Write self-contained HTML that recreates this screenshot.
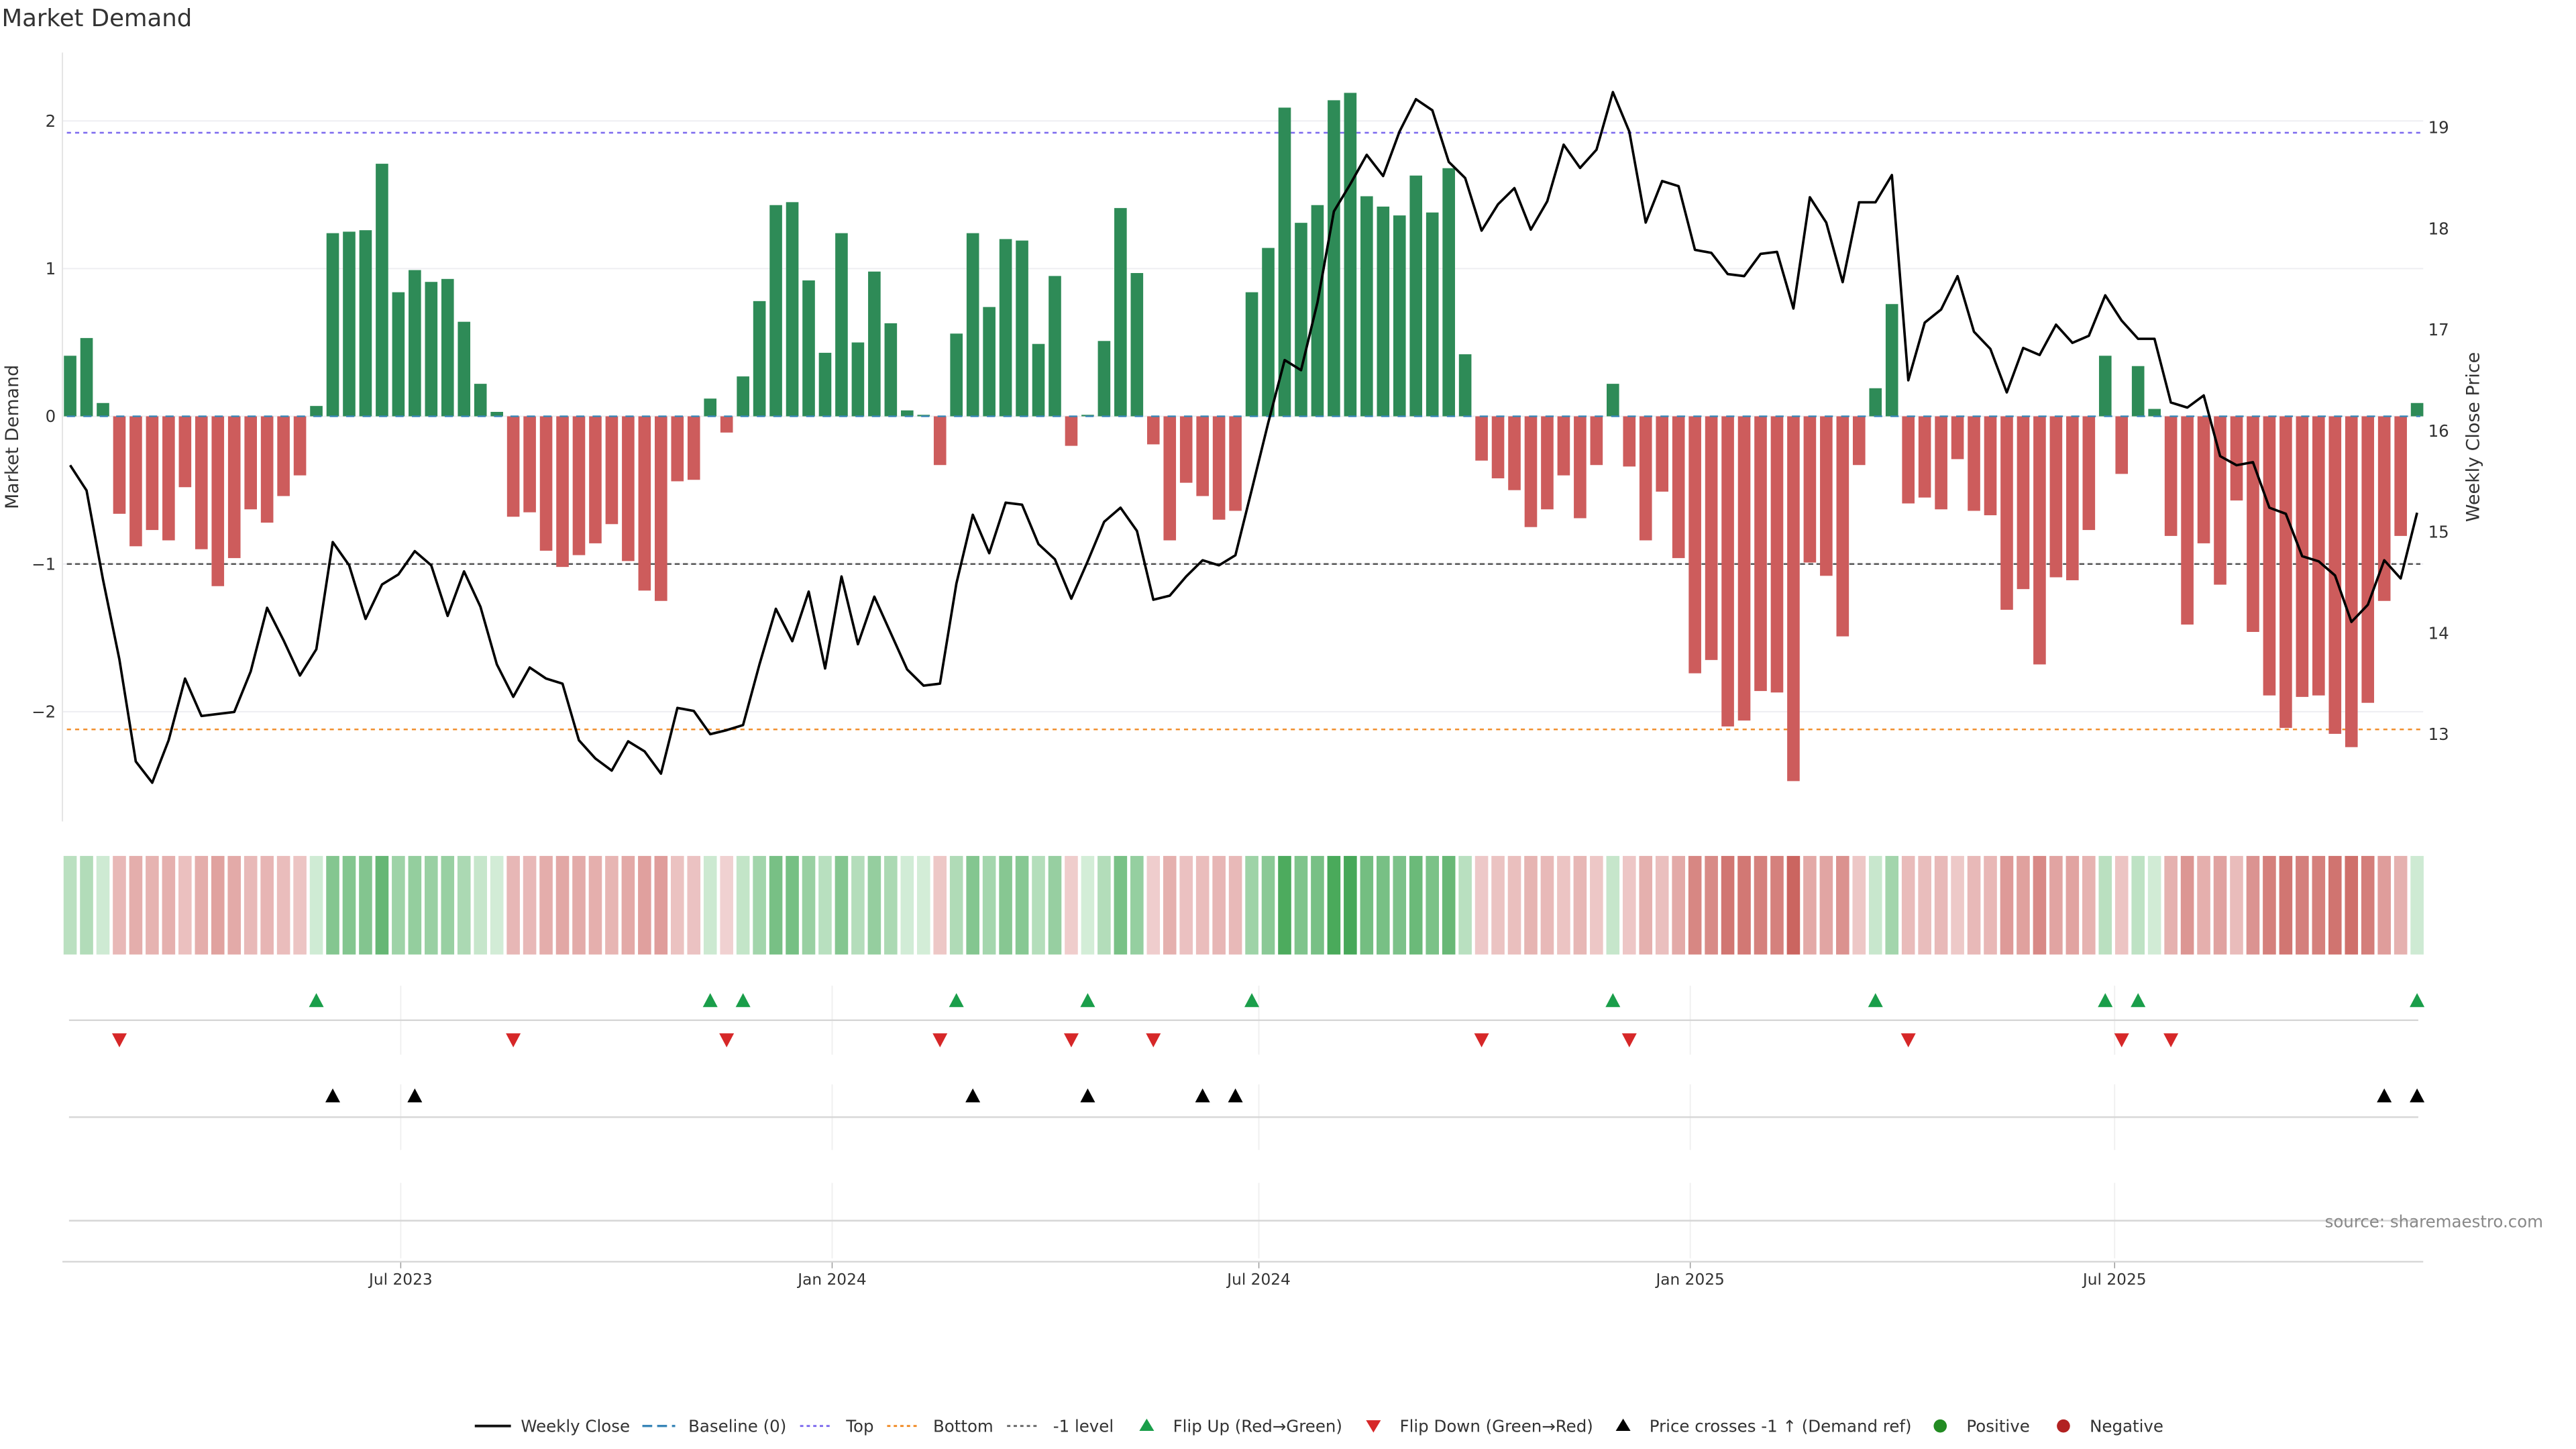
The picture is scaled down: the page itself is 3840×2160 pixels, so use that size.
<!DOCTYPE html>
<html><head><meta charset="utf-8"><style>
html,body{margin:0;padding:0;background:#fff;}
svg{display:block;font-family:"DejaVu Sans","Liberation Sans",sans-serif;}
</style></head><body>
<svg id="chart" width="3840" height="2160" viewBox="0 0 1568 882" xmlns="http://www.w3.org/2000/svg">
<rect width="1568" height="882" fill="#fff"/>
<text x="1" y="16" font-size="14.5" fill="#333">Market Demand</text>
<g id="grid"></g><g id="refs"></g><g id="bars"></g><g id="line"></g><g id="strip"></g><g id="panels"></g><g id="axes"></g>
<text x="1548" y="747" font-size="10" fill="#888" text-anchor="end">source: sharemaestro.com</text>
<g id="legend" font-size="10" fill="#333">
<line x1="289" y1="868" x2="311" y2="868" stroke="#111" stroke-width="1.6"/><text x="317" y="871.5">Weekly Close</text>
<line x1="391" y1="868" x2="411" y2="868" stroke="#3a86b8" stroke-width="1.4" stroke-dasharray="6,3"/><text x="419" y="871.5">Baseline (0)</text>
<line x1="487" y1="868" x2="507" y2="868" stroke="#7b68ee" stroke-width="1.2" stroke-dasharray="2,2"/><text x="515" y="871.5">Top</text>
<line x1="540" y1="868" x2="560" y2="868" stroke="#f08a24" stroke-width="1.2" stroke-dasharray="2,2"/><text x="568" y="871.5">Bottom</text>
<line x1="613" y1="868" x2="633" y2="868" stroke="#666" stroke-width="1.2" stroke-dasharray="2,2"/><text x="641" y="871.5">-1 level</text>
<path d="M698,863.5 L702.5,871 L693.5,871Z" fill="#1a9e4a"/><text x="714" y="871.5">Flip Up (Red→Green)</text>
<path d="M836,872 L840.5,864.5 L831.5,864.5Z" fill="#d62728"/><text x="852" y="871.5">Flip Down (Green→Red)</text>
<path d="M988,863.5 L992.5,871 L983.5,871Z" fill="#000"/><text x="1004" y="871.5">Price crosses -1 ↑ (Demand ref)</text>
<circle cx="1181" cy="868" r="4" fill="#228b22"/><text x="1197" y="871.5">Positive</text>
<circle cx="1256" cy="868" r="4" fill="#b22222"/><text x="1272" y="871.5">Negative</text>
</g>
</svg>
<script>
const demand=[0.41,0.53,0.09,-0.66,-0.88,-0.77,-0.84,-0.48,-0.90,-1.15,-0.96,-0.63,-0.72,-0.54,-0.40,0.07,1.24,1.25,1.26,1.71,0.84,0.99,0.91,0.93,0.64,0.22,0.03,-0.68,-0.65,-0.91,-1.02,-0.94,-0.86,-0.73,-0.98,-1.18,-1.25,-0.44,-0.43,0.12,-0.11,0.27,0.78,1.43,1.45,0.92,0.43,1.24,0.50,0.98,0.63,0.04,0.01,-0.33,0.56,1.24,0.74,1.20,1.19,0.49,0.95,-0.20,0.01,0.51,1.41,0.97,-0.19,-0.84,-0.45,-0.54,-0.70,-0.64,0.84,1.14,2.09,1.31,1.43,2.14,2.19,1.49,1.42,1.36,1.63,1.38,1.68,0.42,-0.30,-0.42,-0.50,-0.75,-0.63,-0.40,-0.69,-0.33,0.22,-0.34,-0.84,-0.51,-0.96,-1.74,-1.65,-2.10,-2.06,-1.86,-1.87,-2.47,-0.99,-1.08,-1.49,-0.33,0.19,0.76,-0.59,-0.55,-0.63,-0.29,-0.64,-0.67,-1.31,-1.17,-1.68,-1.09,-1.11,-0.77,0.41,-0.39,0.34,0.05,-0.81,-1.41,-0.86,-1.14,-0.57,-1.46,-1.89,-2.11,-1.90,-1.89,-2.15,-2.24,-1.94,-1.25,-0.81,0.09];
const price=[15.66,15.41,14.53,13.74,12.73,12.52,12.94,13.55,13.18,13.20,13.22,13.62,14.25,13.93,13.58,13.84,14.90,14.67,14.14,14.48,14.58,14.81,14.67,14.17,14.61,14.26,13.69,13.37,13.66,13.55,13.50,12.94,12.76,12.64,12.93,12.83,12.61,13.26,13.23,13.00,13.04,13.09,13.69,14.24,13.92,14.41,13.65,14.56,13.89,14.36,14.00,13.64,13.48,13.50,14.49,15.17,14.79,15.29,15.27,14.88,14.73,14.34,14.71,15.10,15.24,15.01,14.33,14.37,14.56,14.72,14.67,14.77,15.42,16.08,16.70,16.60,17.27,18.17,18.44,18.73,18.52,18.96,19.28,19.17,18.66,18.50,17.98,18.24,18.40,17.99,18.27,18.83,18.60,18.78,19.35,18.96,18.06,18.47,18.42,17.79,17.76,17.55,17.53,17.75,17.77,17.21,18.31,18.06,17.47,18.26,18.26,18.53,16.50,17.07,17.20,17.53,16.98,16.81,16.38,16.82,16.75,17.05,16.87,16.94,17.34,17.09,16.91,16.91,16.28,16.23,16.35,15.75,15.66,15.69,15.24,15.18,14.76,14.71,14.57,14.11,14.28,14.72,14.54,15.19];
const leftTicks=[2,1,0,-1,-2];
const rightTicks=[13,14,15,16,17,18,19];
const dateTicks=["2023-07-01","2024-01-01","2024-07-01","2025-01-01","2025-07-01"];
const dateTickLabels=["Jul 2023","Jan 2024","Jul 2024","Jan 2025","Jul 2025"];
const refTop=1.92, refBottom=-2.12, refMinus1=-1;
const startDate="2023-02-10";

const NS="http://www.w3.org/2000/svg";
const X0=42.7, STEP=9.99;
const xi=i=>X0+i*STEP;
const yD=v=>253.4-v*89.9;
const yP=p=>77.6+(19-p)*61.55;
const pFromY=y=>19-(y-77.6)/61.55;
const xDate=s=>{const d=(new Date(s+"T00:00:00Z")-new Date(startDate+"T00:00:00Z"))/86400000;return X0+d/7*STEP;};
function mk(tag,attrs,parent){const e=document.createElementNS(NS,tag);for(const k in attrs)e.setAttribute(k,attrs[k]);document.getElementById(parent).appendChild(e);return e;}
const L=38,R=1475;
leftTicks.forEach(v=>{
 const g=mk('line',{x1:L,x2:R,y1:yD(v),y2:yD(v),stroke:'#eeeef2','stroke-width':0.8},'grid');
 
 
 const t=mk('text',{x:34,y:yD(v)+3.5,'font-size':10,fill:'#333','text-anchor':'end'},'axes');
 t.textContent=v<0?'\u2212'+(-v):String(v);
 
 
});
rightTicks.forEach(v=>{
 const t=mk('text',{x:1478,y:yP(v)+3.5,'font-size':10,fill:'#333'},'axes');
 t.textContent=String(v);
 
 
});
let a=mk('line',{x1:L,x2:L,y1:32,y2:500,stroke:'#e4e4e4','stroke-width':0.8},'axes');


let yt=mk('text',{x:11,y:266,'font-size':11,fill:'#333','text-anchor':'middle',transform:'rotate(-90 11 266)'},'axes');yt.textContent='Market Demand';


let yt2=mk('text',{x:1509,y:266,'font-size':11,fill:'#333','text-anchor':'middle',transform:'rotate(-90 1509 266)'},'axes');yt2.textContent='Weekly Close Price';


const n=demand.length, xa=xi(0)-2, xb=xi(n-1)+2;
let r1=mk('line',{x1:xa,x2:xb,y1:yD(refTop),y2:yD(refTop),stroke:'#7b68ee','stroke-width':1,'stroke-dasharray':'2.5,2.5'},'refs');


let r2=mk('line',{x1:xa,x2:xb,y1:yD(refBottom),y2:yD(refBottom),stroke:'#f08a24','stroke-width':1,'stroke-dasharray':'2.5,2.5'},'refs');


let r3=mk('line',{x1:xa,x2:xb,y1:yD(refMinus1),y2:yD(refMinus1),stroke:'#555','stroke-width':1,'stroke-dasharray':'3,2'},'refs');


demand.forEach((v,i)=>{
 const y=Math.min(yD(v),yD(0)),h=Math.abs(yD(v)-yD(0));
 const b=mk('rect',{x:xi(i)-3.8,y:y,width:7.6,height:Math.max(h,0.3),fill:v>=0?'#2e8b57':'#cd5c5c'},'bars');
 
 
});
let bl=mk('line',{x1:xa,x2:xb,y1:yD(0),y2:yD(0),stroke:'#3a86b8','stroke-width':1,'stroke-dasharray':'5,5'},'bars');


const pl=mk('polyline',{points:price.map((p,i)=>xi(i).toFixed(2)+','+yP(p).toFixed(2)).join(' '),fill:'none',stroke:'#000','stroke-width':1.5,'stroke-linejoin':'round'},'line');


function col(v){let t,c0,c1;if(v>=0){t=Math.min(v/2.2,1);c0=[212,237,216];c1=[70,168,88];}else{t=Math.min(-v/2.5,1);c0=[242,214,214];c1=[203,100,95];}
 return 'rgb('+c0.map((c,k)=>Math.round(c+(c1[k]-c)*t)).join(',')+')';}
demand.forEach((v,i)=>{
 const c=mk('rect',{x:xi(i)-4,y:521,width:8,height:60,fill:col(v)},'strip');
 
 
});
dateTicks.forEach((d,k)=>{
 const x=xDate(d);
 [[600,642],[660,700],[720,766]].forEach(([a1,a2])=>{
  const g=mk('line',{x1:x,x2:x,y1:a1,y2:a2,stroke:'#f0f0f0','stroke-width':0.8},'panels');
  
  
 });
 const tk=mk('line',{x1:x,x2:x,y1:768,y2:772,stroke:'#999','stroke-width':0.6},'axes');
 
 
 const t=mk('text',{x:x,y:782,'font-size':9.5,fill:'#333','text-anchor':'middle'},'axes');
 t.textContent=dateTickLabels[k];
 
 
});
[[621,'flip-panel-line'],[680,'cross-panel-line'],[743,'empty-panel-line']].forEach(([y,nm])=>{
 const l=mk('line',{x1:42,x2:1472,y1:y,y2:y,stroke:'#d6d6d6','stroke-width':1},'panels');
 
 
});
let xl=mk('line',{x1:L,x2:R,y1:768,y2:768,stroke:'#d6d6d6','stroke-width':1},'axes');


const thr=pFromY(yD(refMinus1));
for(let i=1;i<n;i++){
 const x=xi(i);
 if(demand[i-1]<0&&demand[i]>=0){const m=mk('path',{d:`M${x},${604.5} L${x+4.5},${613} L${x-4.5},${613}Z`,fill:'#1a9e4a'},'panels');
  
  }
 if(demand[i-1]>=0&&demand[i]<0){const m=mk('path',{d:`M${x},${637.5} L${x+4.5},${629} L${x-4.5},${629}Z`,fill:'#d62728'},'panels');
  
  }
 if(price[i-1]<thr&&price[i]>=thr){const m=mk('path',{d:`M${x},${662.5} L${x+4.5},${671} L${x-4.5},${671}Z`,fill:'#000'},'panels');
  
  }
}
</script>
</body></html>
